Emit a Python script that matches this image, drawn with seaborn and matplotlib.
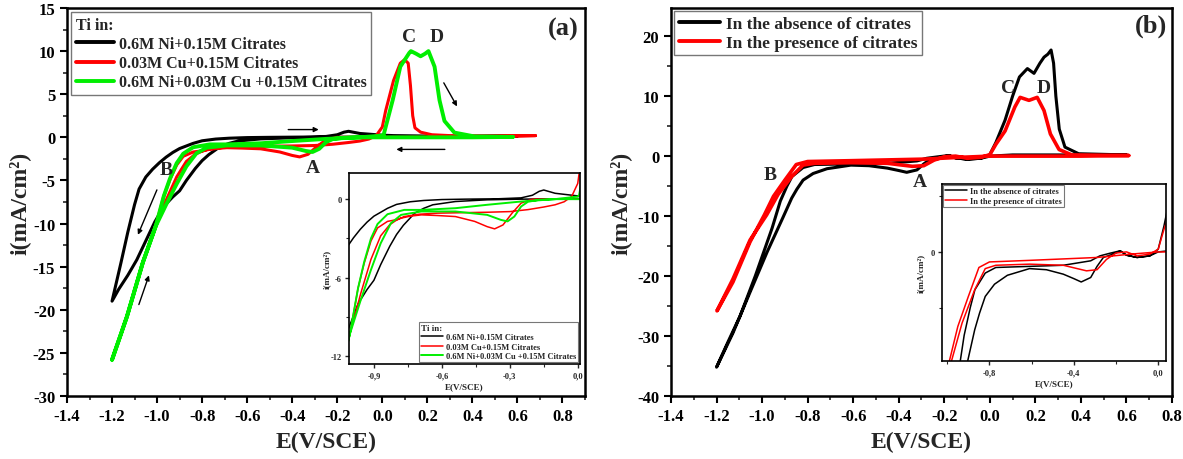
import numpy as np
import pandas as pd
import matplotlib
matplotlib.use("Agg")
import matplotlib.pyplot as plt
from matplotlib.ticker import MultipleLocator, FuncFormatter
import seaborn as sns

# ---------------- DATA : panel (a) ----------------
# 0.6M Ni + 0.15M Citrates (black)
ni_cat_E = [0.60, 0.40, 0.20, 0.05, 0.00, -0.05, -0.10, -0.13, -0.15, -0.17, -0.20, -0.25, -0.35, -0.50,
            -0.60, -0.68, -0.74, -0.80, -0.84, -0.87, -0.90, -0.93, -0.96, -0.99, -1.02, -1.05, -1.08,
            -1.10, -1.13, -1.16, -1.20]
ni_cat_i = [0.15, 0.12, 0.15, 0.20, 0.25, 0.35, 0.45, 0.60, 0.70, 0.60, 0.30, 0.10, 0.03, 0.00,
            -0.03, -0.10, -0.20, -0.40, -0.70, -1.00, -1.30, -1.75, -2.30, -2.95, -3.70, -4.60, -6.00,
            -7.80, -11.0, -14.5, -19.0]
ni_an_E = [-1.20, -1.17, -1.13, -1.09, -1.05, -1.01, -0.97, -0.93, -0.90, -0.87, -0.83, -0.80, -0.77,
           -0.72, -0.68, -0.64, -0.54, -0.40, -0.25, 0.00, 0.30, 0.60]
ni_an_i = [-19.0, -17.6, -16.0, -14.2, -12.0, -9.8, -8.0, -6.9, -6.2, -5.0, -3.6, -2.7, -2.0,
           -1.07, -0.70, -0.43, -0.18, -0.05, 0.00, 0.05, 0.10, 0.15]

# 0.03M Cu + 0.15M Citrates (red)
cu_cat_E = [0.68, 0.50, 0.30, 0.10, 0.00, -0.10, -0.17, -0.20, -0.25, -0.29, -0.33, -0.367, -0.40, -0.455,
            -0.54, -0.62, -0.69, -0.74, -0.78, -0.80, -0.83, -0.87, -0.913, -0.958, -1.006, -1.063,
            -1.134, -1.20]
cu_cat_i = [0.20, 0.10, 0.05, 0.00, 0.00, 0.00, 0.00, 0.00, -0.30, -1.07, -1.97, -2.27, -2.10, -1.70,
            -1.33, -1.25, -1.20, -1.30, -1.45, -1.60, -1.95, -2.80, -4.60, -7.20, -10.3, -14.5,
            -20.8, -25.8]
cu_an_E = [-1.20, -1.134, -1.063, -1.006, -0.97, -0.943, -0.913, -0.884, -0.84, -0.795, -0.766,
           -0.70, -0.62, -0.50, -0.40, -0.30, -0.22, -0.15, -0.10, -0.06, -0.027, 0.00, 0.015, 0.05,
           0.08, 0.099, 0.115, 0.125, 0.135, 0.145, 0.17, 0.22, 0.30, 0.45, 0.68]
cu_an_i = [-25.8, -20.8, -14.5, -10.3, -6.8, -4.9, -3.2, -2.2, -1.7, -1.55, -1.33,
           -1.15, -1.07, -1.03, -1.00, -0.95, -0.80, -0.60, -0.43, -0.20, 0.20, 1.20, 3.10, 6.60,
           8.60, 9.00, 8.60, 6.00, 2.50, 1.10, 0.60, 0.30, 0.20, 0.15, 0.20]

# 0.6M Ni + 0.03M Cu + 0.15M Citrates (green)
nicu_cat_E = [0.58, 0.40, 0.20, 0.00, -0.10, -0.17, -0.22, -0.25, -0.28, -0.31, -0.34, -0.40, -0.54,
              -0.69, -0.78, -0.825, -0.87, -0.913, -0.958, -1.006, -1.063, -1.134, -1.20]
nicu_cat_i = [0.05, 0.00, 0.00, 0.00, 0.00, -0.05, -0.20, -0.56, -1.33, -1.70, -1.58, -1.20, -0.94,
              -0.94, -1.20, -1.84, -3.37, -5.40, -7.70, -10.3, -14.5, -20.8, -25.8]
nicu_an_E = [-1.20, -1.134, -1.063, -1.006, -0.97, -0.943, -0.913, -0.884, -0.84, -0.766, -0.69, -0.54,
             -0.40, -0.25, -0.10, 0.00, 0.006, 0.046, 0.08, 0.12, 0.127, 0.15, 0.17, 0.19, 0.205, 0.232,
             0.254, 0.276, 0.32, 0.41, 0.58]
nicu_an_i = [-25.8, -20.8, -14.5, -10.3, -6.8, -4.8, -3.0, -1.9, -1.15, -0.82, -0.82, -0.69,
             -0.43, -0.18, 0.00, 0.20, 0.30, 4.30, 8.20, 9.80, 10.0, 9.70, 9.40, 9.70, 10.0, 8.20,
             4.30, 1.90, 0.55, 0.10, 0.05]

# ---------------- DATA : panel (b) ----------------
# In the absence of citrates (black)
abs_cat_E = [0.60, 0.30, 0.10, 0.00, -0.04, -0.10, -0.15, -0.18, -0.229, -0.277, -0.32, -0.45, -0.61,
             -0.77, -0.82, -0.869, -0.891, -0.92, -0.956, -1.03, -1.097, -1.15, -1.20]
abs_cat_i = [0.20, 0.20, 0.20, 0.00, -0.36, -0.50, -0.30, 0.10, -0.12, -0.36, -0.80, -1.20, -1.30,
             -1.40, -1.90, -3.40, -5.00, -7.50, -12.0, -20.0, -26.7, -31.0, -35.2]
abs_an_E = [-1.20, -1.128, -1.053, -0.978, -0.908, -0.87, -0.847, -0.82, -0.776, -0.715, -0.61, -0.53,
            -0.45, -0.40, -0.365, -0.32, -0.29, -0.26, -0.20, -0.18, -0.15, -0.10, -0.04, 0.00, 0.027,
            0.067, 0.10, 0.13, 0.165, 0.194, 0.22, 0.238, 0.255, 0.269, 0.28, 0.29, 0.305, 0.33, 0.39,
            0.60]
abs_an_i = [-35.2, -29.5, -22.7, -16.0, -10.2, -7.0, -5.5, -4.0, -2.9, -2.1, -1.5, -1.6,
            -2.0, -2.4, -2.7, -2.3, -1.3, -0.5, -0.1, 0.10, -0.30, -0.50, -0.36, 0.24, 2.30,
            6.00, 10.0, 13.2, 14.6, 13.8, 15.5, 16.5, 17.0, 17.7, 15.5, 10.0, 4.50, 1.50, 0.40,
            0.20]

# In the presence of citrates (red)
pres_cat_E = [0.61, 0.40, 0.20, 0.00, -0.13, -0.29, -0.61, -0.80, -0.85, -0.90, -0.95, -0.99, -1.053,
              -1.128, -1.198]
pres_cat_i = [0.10, 0.00, 0.00, 0.00, -0.20, -0.50, -0.76, -0.90, -1.40, -4.00, -6.70, -9.80, -14.3,
              -21.0, -25.8]
pres_an_E = [-1.198, -1.128, -1.053, -0.98, -0.93, -0.87, -0.82, -0.77, -0.61, -0.45, -0.34, -0.29,
             -0.245, -0.20, -0.15, -0.10, -0.04, 0.00, 0.027, 0.067, 0.11, 0.133, 0.172, 0.208, 0.238,
             0.266, 0.304, 0.36, 0.61]
pres_an_i = [-25.8, -20.5, -14.0, -9.8, -6.4, -3.4, -1.5, -1.2, -1.1, -1.2, -1.7, -1.6,
             -0.67, -0.10, 0.00, -0.36, -0.20, 0.24, 2.00, 4.20, 8.20, 9.80, 9.30, 9.80, 7.60,
             3.70, 1.10, 0.20, 0.10]

labels_a = ["0.6M Ni+0.15M Citrates", "0.03M Cu+0.15M Citrates", "0.6M Ni+0.03M Cu +0.15M Citrates"]
labels_b = ["In the absence of citrates", "In the presence of citrates"]

# ---------------- STYLE ----------------
sns.set_theme(style="ticks")
plt.rcParams['font.family'] = ['Liberation Serif', 'DejaVu Serif']
plt.rcParams['font.weight'] = 'bold'
plt.rcParams['axes.labelweight'] = 'bold'
plt.rcParams['axes.unicode_minus'] = False

BLACK, RED, GREEN = "#000000", "#ff0000", "#00ee00"

def frame(df_a, df_b):
    E = list(df_a[0]) + list(df_b[0])
    i = list(df_a[1]) + list(df_b[1])
    return pd.DataFrame({"E": E, "i": i})

d_ni = frame((ni_cat_E, ni_cat_i), (ni_an_E, ni_an_i))
d_cu = frame((cu_cat_E, cu_cat_i), (cu_an_E, cu_an_i))
d_nicu = frame((nicu_cat_E, nicu_cat_i), (nicu_an_E, nicu_an_i))
d_abs = frame((abs_cat_E, abs_cat_i), (abs_an_E, abs_an_i))
d_pres = frame((pres_cat_E, pres_cat_i), (pres_an_E, pres_an_i))

W, H = 1183, 460
fig = plt.figure(figsize=(W / 100, H / 100), dpi=100)

def ax_px(l, t, r, b):
    return fig.add_axes([l / W, 1 - b / H, (r - l) / W, (b - t) / H])

ax1 = ax_px(67, 9, 585, 397)
ax2 = ax_px(671, 9, 1172, 397)
ins1 = ax_px(349, 174, 580, 365)
ins2 = ax_px(942, 185, 1166, 362)

def style_main(ax):
    for s in ax.spines.values():
        s.set_linewidth(1.8)
        s.set_color('black')
    ax.tick_params(which='major', direction='out', length=5, width=1.5, labelsize=12,
                   top=False, right=False, colors='black')
    ax.tick_params(which='minor', direction='out', length=3, width=1.2, top=False, right=False)
    for lab in ax.get_xticklabels() + ax.get_yticklabels():
        lab.set_fontweight('bold')

def style_inset(ax):
    for s in ax.spines.values():
        s.set_linewidth(1.2)
        s.set_color('black')
    ax.tick_params(which='major', direction='out', length=3, width=1.0, labelsize=6, pad=2)
    ax.tick_params(which='minor', direction='out', length=2, width=0.8)
    ax.xaxis.set_major_formatter(FuncFormatter(lambda v, p: f"{v:.1f}".replace('.', ',')))

# ---------------- PANEL (a) ----------------
for d, c, lw, lab in [(d_ni, BLACK, 2.2, labels_a[0]), (d_cu, RED, 2.2, labels_a[1]),
                      (d_nicu, GREEN, 2.8, labels_a[2])]:
    sns.lineplot(data=d, x="E", y="i", sort=False, estimator=None, color=c, lw=lw, label=lab, ax=ax1)
ax1.set_xlim(-1.4, 0.9)
ax1.set_ylim(-30, 15)
ax1.xaxis.set_major_locator(MultipleLocator(0.2))
ax1.xaxis.set_minor_locator(MultipleLocator(0.1))
ax1.yaxis.set_major_locator(MultipleLocator(5))
ax1.yaxis.set_minor_locator(MultipleLocator(2.5))
ax1.xaxis.set_major_formatter(FuncFormatter(lambda v, p: f"{v:.1f}"))
ax1.set_xlabel("E(V/SCE)", fontsize=17, fontweight='bold', labelpad=5)
ax1.set_ylabel("i(mA/cm²)", fontsize=17, fontweight='bold', labelpad=2)
style_main(ax1)
leg1 = ax1.legend(loc='upper left', title="Ti in:", fontsize=11.5, frameon=True, fancybox=False,
                  edgecolor='#555555', handlelength=2.4, handletextpad=0.3, borderpad=0.3,
                  labelspacing=0.2, borderaxespad=0.25, alignment='left',
                  title_fontproperties={'weight': 'bold', 'size': 11.5})
leg1.get_frame().set_linewidth(1.0)
for h in leg1.get_lines():
    h.set_linewidth(2.8)
for t in leg1.get_texts():
    t.set_fontweight('bold')

for txt, x, y in [("C", 0.12, 11.7), ("D", 0.24, 11.7), ("A", -0.31, -3.5), ("B", -0.96, -3.7)]:
    ax1.text(x, y, txt, fontsize=14, fontweight='bold', ha='center', va='center')
ax1.text(0.988, 0.948, "(a)", transform=ax1.transAxes, fontsize=19, fontweight='bold',
         ha='right', va='center')
arrow_kw = dict(arrowstyle='-|>', lw=1.0, color='black', mutation_scale=7)
for (x0, y0), (x1, y1) in [((-0.43, 0.9), (-0.27, 0.9)), ((0.29, -1.4), (0.05, -1.4)),
                           ((0.267, 6.6), (0.338, 3.3)), ((-0.996, -5.8), (-1.09, -11.6)),
                           ((-1.085, -19.7), (-1.032, -15.7))]:
    ax1.annotate("", xy=(x1, y1), xytext=(x0, y0), arrowprops=arrow_kw)

# inset (a)
for d, c, lw, lab in [(d_ni, BLACK, 1.1, labels_a[0]), (d_cu, RED, 1.1, labels_a[1]),
                      (d_nicu, GREEN, 1.4, labels_a[2])]:
    sns.lineplot(data=d, x="E", y="i", sort=False, estimator=None, color=c, lw=lw, label=lab, ax=ins1)
ins1.set_xlim(-1.01, 0.01)
ins1.set_ylim(-12.6, 2.0)
ins1.xaxis.set_major_locator(MultipleLocator(0.3))
ins1.xaxis.set_minor_locator(MultipleLocator(0.15))
ins1.yaxis.set_major_locator(MultipleLocator(6))
ins1.yaxis.set_minor_locator(MultipleLocator(3))
style_inset(ins1)
ins1.set_xlabel("E(V/SCE)", fontsize=6.5, fontweight='bold', labelpad=2)
ins1.set_ylabel("i(mA/cm²)", fontsize=6.5, fontweight='bold', labelpad=0)
li = ins1.legend(loc='lower right', title="Ti in:", fontsize=6, frameon=True, fancybox=False,
                 edgecolor='#555555', handlelength=2.6, handletextpad=0.3, borderpad=0.3,
                 labelspacing=0.15, borderaxespad=0.2, alignment='left',
                 title_fontproperties={'weight': 'bold', 'size': 6.5})
li.get_frame().set_linewidth(0.8)
for t in li.get_texts():
    t.set_fontweight('bold')

# ---------------- PANEL (b) ----------------
for d, c, lw, lab in [(d_abs, BLACK, 2.2, labels_b[0]), (d_pres, RED, 2.6, labels_b[1])]:
    sns.lineplot(data=d, x="E", y="i", sort=False, estimator=None, color=c, lw=lw, label=lab, ax=ax2)
ax2.set_xlim(-1.4, 0.8)
ax2.set_ylim(-40, 24.7)
ax2.xaxis.set_major_locator(MultipleLocator(0.2))
ax2.xaxis.set_minor_locator(MultipleLocator(0.1))
ax2.yaxis.set_major_locator(MultipleLocator(10))
ax2.yaxis.set_minor_locator(MultipleLocator(5))
ax2.xaxis.set_major_formatter(FuncFormatter(lambda v, p: f"{v:.1f}"))
ax2.set_xlabel("E(V/SCE)", fontsize=17, fontweight='bold', labelpad=5)
ax2.set_ylabel("i(mA/cm²)", fontsize=17, fontweight='bold', labelpad=4)
style_main(ax2)
leg2 = ax2.legend(loc='upper left', fontsize=12.5, frameon=True, fancybox=False,
                  edgecolor='#555555', handlelength=2.4, handletextpad=0.3, borderpad=0.25,
                  labelspacing=0.15, borderaxespad=0.2)
leg2.get_frame().set_linewidth(1.0)
for h in leg2.get_lines():
    h.set_linewidth(2.8)
for t in leg2.get_texts():
    t.set_fontweight('bold')
for txt, x, y in [("C", 0.08, 11.5), ("D", 0.238, 11.5), ("A", -0.306, -4.2), ("B", -0.965, -3.0)]:
    ax2.text(x, y, txt, fontsize=14, fontweight='bold', ha='center', va='center')
ax2.text(0.99, 0.956, "(b)", transform=ax2.transAxes, fontsize=19, fontweight='bold',
         ha='right', va='center')

# inset (b)
for d, c, lw, lab in [(d_abs, BLACK, 1.1, labels_b[0]), (d_pres, RED, 1.1, labels_b[1])]:
    sns.lineplot(data=d, x="E", y="i", sort=False, estimator=None, color=c, lw=lw, label=lab, ax=ins2)
ins2.set_xlim(-1.025, 0.037)
ins2.set_ylim(-9.8, 6.1)
ins2.xaxis.set_major_locator(MultipleLocator(0.4))
ins2.xaxis.set_minor_locator(MultipleLocator(0.2))
ins2.yaxis.set_major_locator(MultipleLocator(10))
ins2.yaxis.set_minor_locator(MultipleLocator(5))
style_inset(ins2)
ins2.set_xlabel("E(V/SCE)", fontsize=6.5, fontweight='bold', labelpad=2)
ins2.set_ylabel("i(mA/cm²)", fontsize=6.5, fontweight='bold', labelpad=4)
li2 = ins2.legend(loc='upper left', fontsize=6, frameon=True, fancybox=False,
                  edgecolor='#555555', handlelength=2.6, handletextpad=0.3, borderpad=0.3,
                  labelspacing=0.15, borderaxespad=0.1)
li2.get_frame().set_linewidth(0.8)
for t in li2.get_texts():
    t.set_fontweight('bold')

fig.savefig("out.png", dpi=100)
